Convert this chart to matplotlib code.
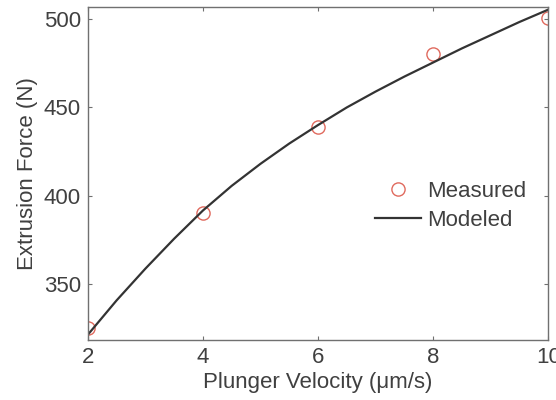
import numpy as np
import matplotlib
matplotlib.use("Agg")
import matplotlib.pyplot as plt

plt.rcParams['font.family'] = ['Liberation Sans', 'DejaVu Sans']

# Measured points
velocity_measured = [2, 4, 6, 8, 10]
force_measured = [325, 390, 439, 480.5, 500.5]

# Modeled curve
velocity_model = [2.0, 2.5, 3.0, 3.5, 4.0, 4.5, 5.0, 5.5, 6.0, 6.5,
                  7.0, 7.5, 8.0, 8.5, 9.0, 9.5, 10.0]
force_model = [321, 340.5, 358.5, 375.5, 391.5, 405.5, 418, 429.5, 440, 450,
               459, 467.5, 475.5, 483.5, 491, 498.5, 505.5]

x_ticks = [2, 4, 6, 8, 10]
y_ticks = [350, 400, 450, 500]

text_color = "#404040"
spine_color = "#707070"

fig = plt.figure(figsize=(5.56, 4.0), dpi=100)
ax = fig.add_axes([0.158, 0.15, 0.828, 0.8325])

ax.plot(velocity_measured, force_measured, linestyle="none", marker="o",
        markersize=9.5, markerfacecolor="none", markeredgecolor="#e06a5e",
        markeredgewidth=1.0, label="Measured")
ax.plot(velocity_model, force_model, color="#333333", linewidth=1.6,
        label="Modeled")

ax.set_xlim(2, 10)
ax.set_ylim(318, 507)
ax.set_xticks(x_ticks)
ax.set_yticks(y_ticks)

ax.tick_params(direction="in", length=3, width=0.8, top=True, right=True,
               labelsize=16, colors=spine_color, labelcolor=text_color, pad=5)
for s in ax.spines.values():
    s.set_color(spine_color)
    s.set_linewidth(1.0)

ax.set_xlabel("Plunger Velocity (μm/s)", fontsize=16, color=text_color, labelpad=3)
ax.set_ylabel("Extrusion Force (N)", fontsize=16, color=text_color, labelpad=4)

ax.legend(loc="upper left", bbox_to_anchor=(0.604, 0.505), frameon=False,
          fontsize=16, labelcolor=text_color, handlelength=2.1,
          handletextpad=0.27, borderaxespad=0.0, labelspacing=0.35)

fig.savefig("out.png", dpi=100)
